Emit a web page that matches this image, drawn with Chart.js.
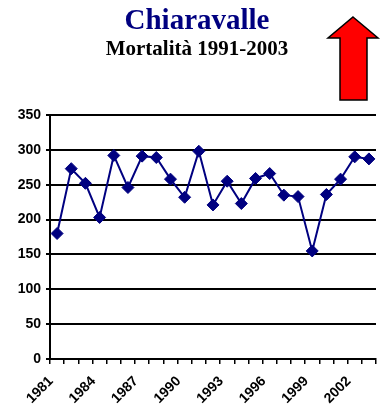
<!DOCTYPE html>
<html>
<head>
<meta charset="utf-8">
<script src="https://cdn.jsdelivr.net/npm/chart.js@4/dist/chart.umd.min.js"></script>
<style>
  html, body { margin: 0; padding: 0; background: #fff; }
  #wrap { position: relative; width: 383px; height: 407px; overflow: hidden; }
  #chart { position: absolute; left: 0; top: 0; }
  .ttl { position: absolute; left: 0; width: 394px; text-align: center; font-family: "Liberation Serif", "Times New Roman", serif; font-weight: bold; line-height: 1; white-space: nowrap; }
  #t1 { top: 5px; font-size: 29px; color: #000080; }
  #t2 { top: 38px; font-size: 21px; color: #000; }
  #arrow { position: absolute; left: 0; top: 0; }
</style>
</head>
<body>
<div id="wrap">
  <canvas id="chart" width="383" height="407"></canvas>
  <div class="ttl" id="t1">Chiaravalle</div>
  <div class="ttl" id="t2">Mortalità 1991-2003</div>
  <svg id="arrow" width="383" height="407">
    <polygon points="353,17 378,38 367,38 367,100 340,100 340,38 328,38" fill="#ff0000" stroke="#000" stroke-width="1.5" stroke-linejoin="miter"/>
  </svg>
</div>
<script>
// Deaths per year
const years = [1981, 1982, 1983, 1984, 1985, 1986, 1987, 1988, 1989, 1990, 1991, 1992,
               1993, 1994, 1995, 1996, 1997, 1998, 1999, 2000, 2001, 2002, 2003];
const deaths = [180, 273, 252, 203, 292, 246, 291, 289, 258, 232, 298, 221,
                255, 223, 259, 266, 235, 233, 155, 236, 258, 290, 287];
const yTicks = [0, 50, 100, 150, 200, 250, 300, 350];
const labelEvery = 3;

const axisFont = { family: '"Liberation Sans", Arial, sans-serif', size: 14, weight: 'bold' };

new Chart(document.getElementById('chart'), {
  type: 'line',
  data: {
    labels: years.map(String),
    datasets: [{
      data: deaths,
      borderColor: '#000080',
      backgroundColor: '#000080',
      borderWidth: 2,
      pointStyle: 'rectRot',
      pointRadius: 6,
      pointBorderWidth: 1,
      pointBackgroundColor: '#000080',
      pointBorderColor: '#000080',
      tension: 0,
      fill: false
    }]
  },
  options: {
    responsive: false,
    animation: false,
    events: [],
    layout: { padding: { top: 115, right: 0, left: 0, bottom: 0 } },
    plugins: { legend: { display: false }, title: { display: false }, tooltip: { enabled: false } },
    scales: {
      x: {
        type: 'category',
        offset: true,
        afterFit: s => { s.height = 48; s.paddingLeft = 0; s.paddingRight = 0; },
        border: { display: true, color: '#000', width: 2 },
        grid: { display: true, drawOnChartArea: false, offset: true, color: '#000', lineWidth: 1.5, tickLength: 5 },
        ticks: {
          color: '#000',
          font: axisFont,
          autoSkip: false,
          minRotation: 45,
          maxRotation: 45,
          padding: 9,
          labelOffset: -6,
          callback: function (v, i) { return (years[i] - years[0]) % labelEvery === 0 ? String(years[i]) : ''; }
        }
      },
      y: {
        min: yTicks[0],
        max: yTicks[yTicks.length - 1],
        afterFit: s => { s.width = 50; s.paddingTop = 0; s.paddingBottom = 0; },
        afterBuildTicks: s => { s.ticks = yTicks.map(v => ({ value: v })); },
        border: { display: true, color: '#000', width: 2 },
        grid: { color: '#000', lineWidth: 2, tickLength: 4 },
        ticks: { color: '#000', font: axisFont, padding: 5 }
      }
    }
  }
});
</script>
</body>
</html>
